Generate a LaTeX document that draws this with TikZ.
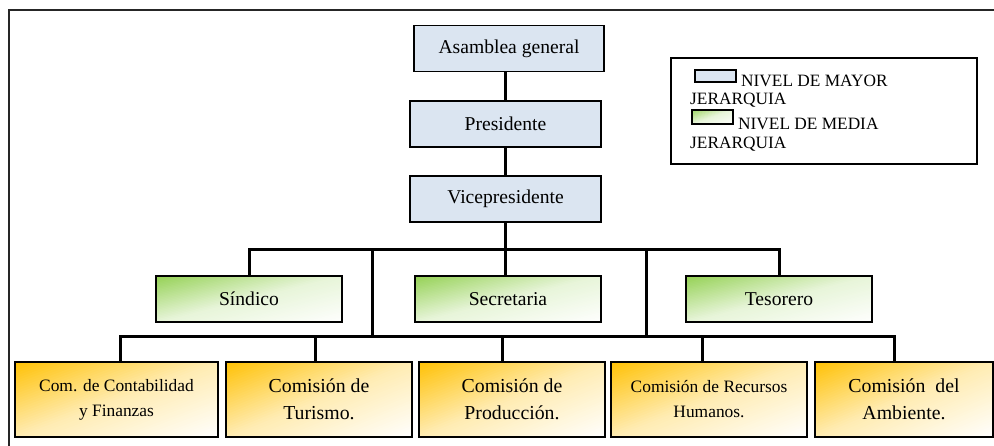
\documentclass[tikz,border=0pt]{standalone}
\usepackage{fontspec}
\setmainfont{Liberation Serif}
\usetikzlibrary{backgrounds}
\definecolor{blu}{HTML}{DBE5F1}
\definecolor{grn}{HTML}{92D050}
\definecolor{org}{HTML}{FFC000}
\newdimen\gxa \newdimen\gya \newdimen\gxb \newdimen\gyb
\newcommand\gradfill[3]{%
  \begin{scope}[on background layer]
  \begin{scope}
    \pgfextractx{\gxa}{\pgfpointanchor{#1}{north west}}%
    \pgfextracty{\gya}{\pgfpointanchor{#1}{north west}}%
    \pgfextractx{\gxb}{\pgfpointanchor{#1}{south east}}%
    \pgfextracty{\gyb}{\pgfpointanchor{#1}{south east}}%
    \pgfmathsetmacro\gl{\gxa}%
    \pgfmathsetmacro\gw{\gxb-\gxa}%
    \pgfmathsetmacro\gt{\gya}%
    \pgfmathsetmacro\gb{\gyb}%
    \clip (\gxa,\gya) rectangle (\gxb,\gyb);
    \foreach \i in {0,...,59}{
      \pgfmathsetmacro\sa{\i/30}
      \pgfmathsetmacro\sb{(\i+1.4)/30}
      \pgfmathsetmacro\sm{(\i+0.5)/30}
      \pgfmathsetmacro\pc{\sm<1 ? 100-(100-#3)*\sm : #3*(2-\sm)}
      \fill[#2!\pc!white]
        ({(\gl+\sa*\gw)*1pt},{\gt*1pt}) -- ({(\gl+\sb*\gw)*1pt},{\gt*1pt}) --
        ({(\gl+(\sb-1)*\gw)*1pt},{\gb*1pt}) -- ({(\gl+(\sa-1)*\gw)*1pt},{\gb*1pt}) -- cycle;
    }
  \end{scope}
  \end{scope}}
\begin{document}
\begin{tikzpicture}[x=1pt,y=-1pt,
  box/.style={draw=black,line width=1.8pt,rectangle,inner sep=0pt,align=center},
  topbox/.style={box,fill=blu,minimum height=46pt,font=\fontsize{19.6}{24}\selectfont},
  midbox/.style={box,minimum width=186pt,minimum height=46pt,font=\fontsize{19.6}{24}\selectfont},
  lowbox/.style={box,minimum height=75pt},
  bigtxt/.style={font=\fontsize{19.8}{27}\selectfont},
  smalltxt/.style={font=\fontsize{17.4}{25}\selectfont},
  conn/.style={line width=3pt,black},
  legtxt/.style={anchor=base west,inner sep=0pt,font=\fontsize{17.3}{20}\selectfont}]
\useasboundingbox (0,0) rectangle (994,445);
\begin{scope}[on background layer]
\fill[white] (0,0) rectangle (994,445);
\end{scope}
% frame
\draw[line width=1.5pt,black!85] (9,10) rectangle (1010,460);
% top level
\node[topbox,minimum width=190pt] (asam) at (509,48.5) {Asamblea general};
\node[topbox,minimum width=191pt] (pres) at (505.5,124) {Presidente};
\node[topbox,minimum width=191pt] (vice) at (505.5,199) {Vicepresidente};
% middle
\node[midbox] (sind) at (249,299) {Síndico};
\node[midbox] (secr) at (508,299) {Secretaria};
\node[midbox] (teso) at (779,299) {Tesorero};
% lower
\node[lowbox,smalltxt,minimum width=203pt] (c1) at (116.5,399.5) {Com. de Contabilidad\\y Finanzas};
\node[lowbox,bigtxt,minimum width=186pt] (c2) at (319,399.5) {Comisión de\\Turismo.};
\node[lowbox,bigtxt,minimum width=186pt] (c3) at (512,399.5) {Comisión de\\Producción.};
\node[lowbox,smalltxt,minimum width=196pt] (c4) at (709,399.5) {Comisión de Recursos\\Humanos.};
\node[lowbox,bigtxt,minimum width=178pt] (c5) at (904,399.5) {Comisión\ \ del\\Ambiente.};
% gradient fills
\gradfill{sind}{grn}{22}
\gradfill{secr}{grn}{22}
\gradfill{teso}{grn}{22}
\gradfill{c1}{org}{30}
\gradfill{c2}{org}{30}
\gradfill{c3}{org}{30}
\gradfill{c4}{org}{30}
\gradfill{c5}{org}{30}
% bus coordinates
\coordinate (b1) at (0,249);
\coordinate (b2) at (0,336);
\coordinate (v1) at (372,0);
\coordinate (v2) at (646,0);
\coordinate (d1) at (120,0);
\coordinate (d2) at (315,0);
\coordinate (d3) at (502,0);
\coordinate (d4) at (702,0);
\coordinate (d5) at (894,0);
% connectors
\draw[conn] (pres.north) -- (pres.north |- asam.south);
\draw[conn] (vice.north) -- (vice.north |- pres.south);
\draw[conn] (vice.south) -- (vice.south |- secr.north);
\draw[conn] (sind.north) -- (sind.north |- b1) -- (teso.north |- b1) -- (teso.north);
\draw[conn] (v1 |- b1) -- (v1 |- b2);
\draw[conn] (v2 |- b1) -- (v2 |- b2);
\draw[conn] (d1 |- c1.north) -- (d1 |- b2) -- (d5 |- b2) -- (d5 |- c5.north);
\draw[conn] (d2 |- b2) -- (d2 |- c2.north);
\draw[conn] (d3 |- b2) -- (d3 |- c3.north);
\draw[conn] (d4 |- b2) -- (d4 |- c4.north);
% legend
\node[draw=black,line width=1.5pt,minimum width=306pt,minimum height=106pt,inner sep=0pt] (leg) at (824,111) {};
\node[draw=black,line width=1.8pt,fill=blu,minimum width=41pt,minimum height=12pt,inner sep=0pt] (s1) at (715.5,76) {};
\node[draw=black,line width=1.8pt,minimum width=41pt,minimum height=14pt,inner sep=0pt] (s2) at (712.5,117) {};
\gradfill{s2}{grn}{22}
\node[legtxt] (l1) at (741,86) {NIVEL DE MAYOR};
\node[legtxt] (l2) at (690,104) {JERARQUIA};
\node[legtxt] (l3) at (738,129) {NIVEL DE MEDIA};
\node[legtxt] (l4) at (690,148) {JERARQUIA};
\end{tikzpicture}
\end{document}
